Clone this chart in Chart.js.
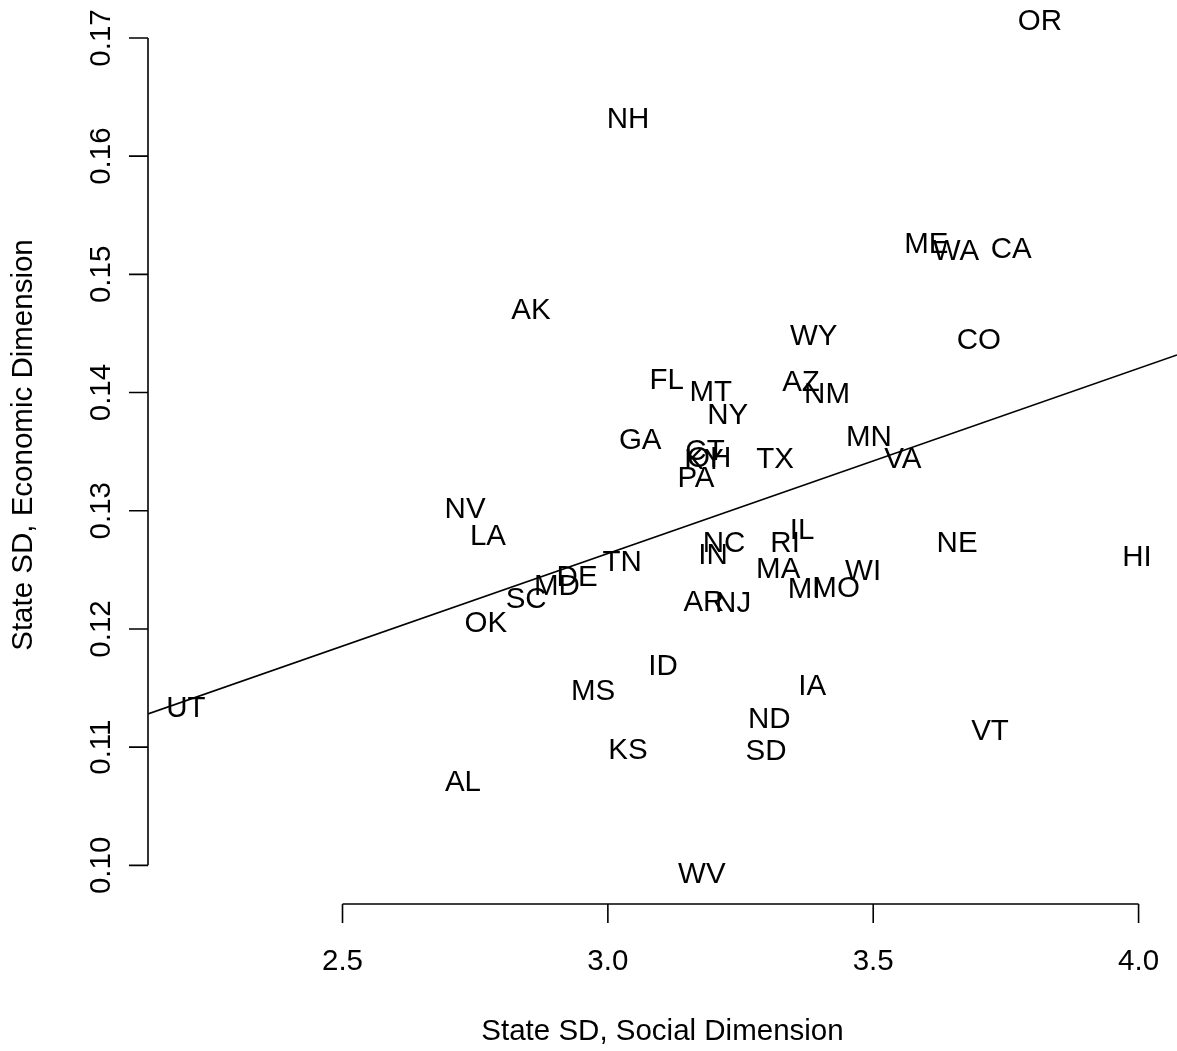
<!DOCTYPE html>
<html>
<head>
<meta charset="utf-8">
<script src="https://cdn.jsdelivr.net/npm/chart.js@4/dist/chart.umd.min.js"></script>
<style>
  body { margin: 0; background: #fff; }
  canvas { display: block; }
</style>
</head>
<body>
<canvas id="chart" width="1177" height="1051"></canvas>
<script>
const states = ["OR", "NH", "ME", "WA", "CA", "AK", "WY", "CO", "FL", "AZ",
    "MT", "NM", "NY", "GA", "MN", "CT", "OH", "KY", "TX", "VA",
    "PA", "NV", "LA", "IL", "NC", "RI", "NE", "IN", "TN", "HI",
    "DE", "MD", "MA", "WI", "SC", "AR", "NJ", "MI", "MO", "OK",
    "ID", "MS", "IA", "UT", "ND", "VT", "KS", "SD", "AL", "WV"]
const socialSD = [3.814, 3.038, 3.600, 3.656, 3.760, 2.855, 3.388, 3.699, 3.111, 3.364,
    3.194, 3.413, 3.226, 3.061, 3.492, 3.183, 3.191, 3.181, 3.315, 3.556,
    3.166, 2.731, 2.774, 3.366, 3.219, 3.334, 3.658, 3.198, 3.027, 3.997,
    2.942, 2.904, 3.321, 3.481, 2.846, 3.181, 3.236, 3.370, 3.430, 2.770,
    3.104, 2.972, 3.385, 2.205, 3.304, 3.720, 3.038, 3.298, 2.727, 3.177]
const economicSD = [0.1716, 0.1633, 0.1527, 0.1521, 0.1523, 0.1471, 0.1449, 0.1446, 0.1412, 0.1410,
    0.1402, 0.1400, 0.1382, 0.1361, 0.1364, 0.1352, 0.1346, 0.1344, 0.1345, 0.1345,
    0.1329, 0.1303, 0.1280, 0.1285, 0.1274, 0.1274, 0.1274, 0.1264, 0.1258, 0.1262,
    0.1245, 0.1238, 0.1252, 0.1250, 0.1227, 0.1224, 0.1223, 0.1235, 0.1236, 0.1206,
    0.1170, 0.1149, 0.1153, 0.1134, 0.1125, 0.1115, 0.1099, 0.1098, 0.1072, 0.0994]
const xTicks = [2.5, 3.0, 3.5, 4.0]
const yTicks = [0.10, 0.11, 0.12, 0.13, 0.14, 0.15, 0.16, 0.17]

// fitted line: economic = intercept + slope * social
const fitIntercept = 0.07939
const fitSlope = 0.015664

const xMin = 2.1335, xMax = 4.0724
const yMin = 0.09673, yMax = 0.17321

const FONT = "29.5px 'Liberation Sans', Arial, sans-serif"

const points = states.map((s, i) => ({ x: socialSD[i], y: economicSD[i] }))
const fitLine = [
    { x: xMin, y: fitIntercept + fitSlope * xMin },
    { x: xMax, y: fitIntercept + fitSlope * xMax }
]

// draws state labels, axes and axis titles R-style
const rPlot = {
    id: "rPlot",
    afterDatasetsDraw(chart) {
        const ctx = chart.ctx
        const xs = chart.scales.x
        const ys = chart.scales.y
        const meta = chart.getDatasetMeta(0)

        ctx.save()
        ctx.fillStyle = "#000"
        ctx.strokeStyle = "#000"
        ctx.font = FONT
        ctx.textAlign = "center"
        ctx.textBaseline = "alphabetic"

        meta.data.forEach((pt, i) => {
            ctx.fillText(states[i], pt.x, pt.y + 10.5)
        })

        ctx.lineWidth = 1.6
        ctx.lineCap = "butt"

        // x axis
        const axisY = chart.chartArea.bottom
        ctx.beginPath()
        ctx.moveTo(xs.getPixelForValue(xTicks[0]), axisY)
        ctx.lineTo(xs.getPixelForValue(xTicks[xTicks.length - 1]), axisY)
        xTicks.forEach(t => {
            const px = xs.getPixelForValue(t)
            ctx.moveTo(px, axisY)
            ctx.lineTo(px, axisY + 19)
        })
        ctx.stroke()
        xTicks.forEach(t => {
            ctx.fillText(t.toFixed(1), xs.getPixelForValue(t), 970)
        })

        // y axis
        const axisX = chart.chartArea.left
        ctx.beginPath()
        ctx.moveTo(axisX, ys.getPixelForValue(yTicks[0]))
        ctx.lineTo(axisX, ys.getPixelForValue(yTicks[yTicks.length - 1]))
        yTicks.forEach(t => {
            const py = ys.getPixelForValue(t)
            ctx.moveTo(axisX, py)
            ctx.lineTo(axisX - 19, py)
        })
        ctx.stroke()
        yTicks.forEach(t => {
            ctx.save()
            ctx.translate(110, ys.getPixelForValue(t))
            ctx.rotate(-Math.PI / 2)
            ctx.fillText(t.toFixed(2), 0, 0)
            ctx.restore()
        })

        // axis titles
        ctx.fillText("State SD, Social Dimension", (chart.chartArea.left + chart.chartArea.right) / 2, 1040)
        ctx.save()
        ctx.translate(32, 445)
        ctx.rotate(-Math.PI / 2)
        ctx.fillText("State SD, Economic Dimension", 0, 0)
        ctx.restore()

        ctx.restore()
    }
}

new Chart(document.getElementById("chart"), {
    type: "scatter",
    data: {
        datasets: [
            {
                label: "States",
                data: points,
                pointRadius: 0,
                pointHoverRadius: 0
            },
            {
                type: "line",
                label: "Fit",
                data: fitLine,
                borderColor: "#000",
                borderWidth: 1.6,
                pointRadius: 0,
                fill: false
            }
        ]
    },
    options: {
        responsive: false,
        animation: false,
        devicePixelRatio: 1,
        layout: { padding: { left: 148, right: 0, top: 0, bottom: 147 } },
        plugins: { legend: { display: false }, tooltip: { enabled: false } },
        scales: {
            x: { type: "linear", min: xMin, max: xMax, display: false },
            y: { type: "linear", min: yMin, max: yMax, display: false }
        }
    },
    plugins: [rPlot]
})
</script>
</body>
</html>
